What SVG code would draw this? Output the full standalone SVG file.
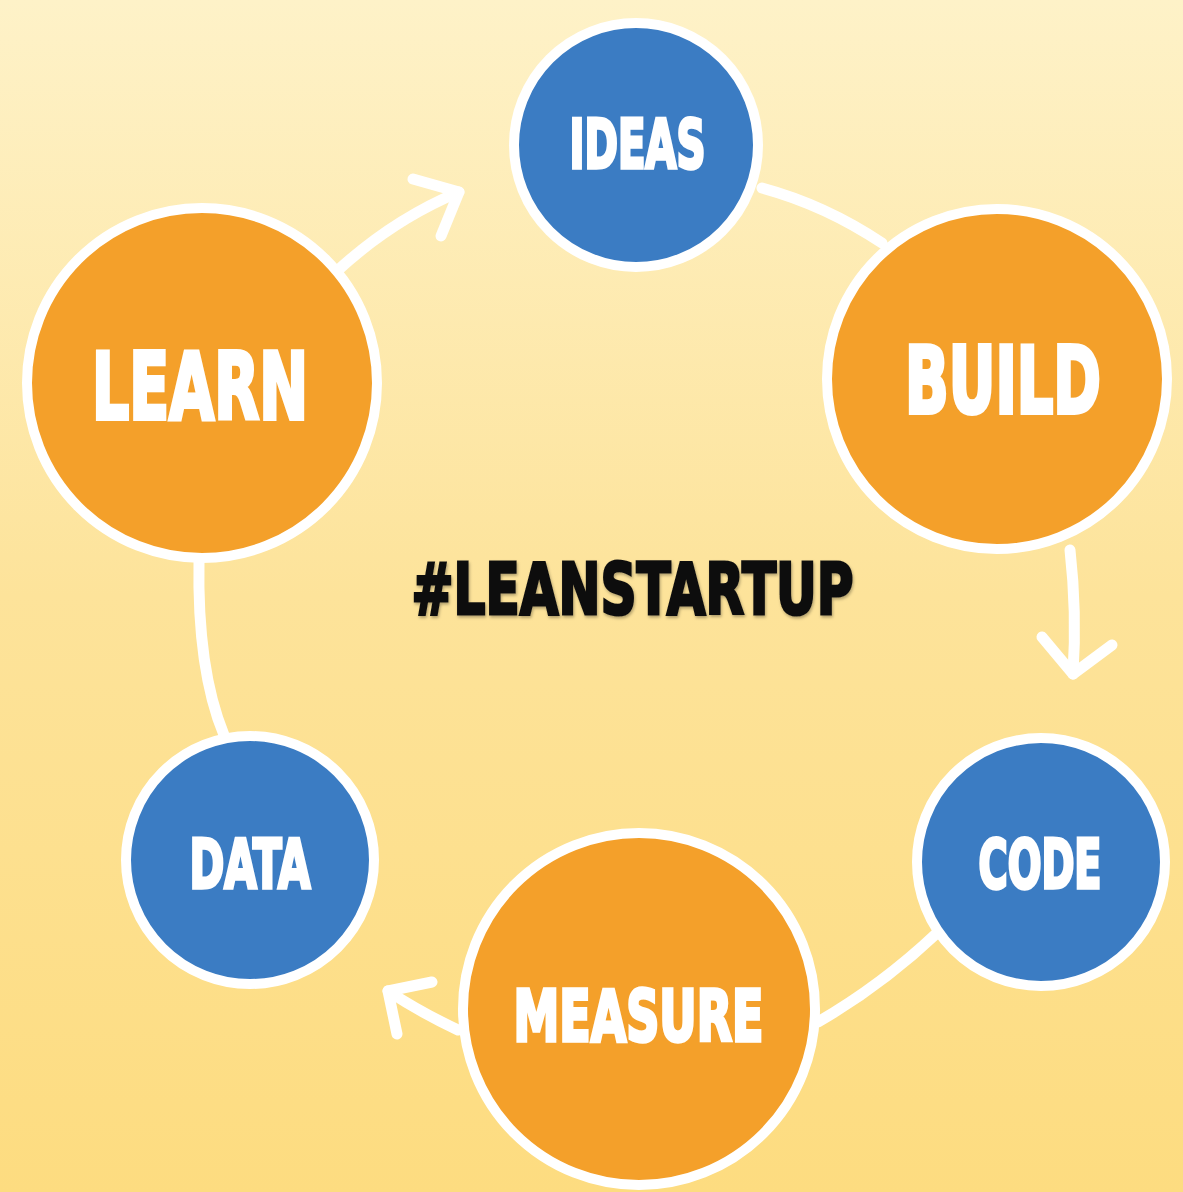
<svg xmlns="http://www.w3.org/2000/svg" width="1183" height="1192" viewBox="0 0 1183 1192">
  <defs>
    <linearGradient id="bg" x1="0" y1="0" x2="0" y2="1">
      <stop offset="0" stop-color="#FEF2C8"/>
      <stop offset="0.5" stop-color="#FDE39A"/>
      <stop offset="1" stop-color="#FDDC80"/>
    </linearGradient>
    <filter id="shadow" x="-5%" y="-20%" width="110%" height="140%">
      <feDropShadow dx="1" dy="2" stdDeviation="1.5" flood-color="#000" flood-opacity="0.3"/>
    </filter>
  </defs>
  <style>
    .blue { fill: #3B7CC3; stroke: #FFFFFF; stroke-width: 10; }
    .orange { fill: #F4A02A; stroke: #FFFFFF; stroke-width: 10; }
    .lbl { font-family: "DejaVu Sans Condensed", "DejaVu Sans", sans-serif; font-stretch: condensed; font-weight: bold; fill: #FFFFFF; stroke: #FFFFFF; stroke-linejoin: miter; }
    .big { font-size: 92px; stroke-width: 4; }
    .mid { font-size: 71px; stroke-width: 3.5; }
    .sm { font-size: 67px; stroke-width: 3.5; }
    .title { font-family: "DejaVu Sans", sans-serif; font-weight: bold; font-size: 71px; fill: #111111; stroke: #111111; stroke-width: 3; stroke-linejoin: miter; }
    .conn { fill: none; stroke: #FFFFFF; stroke-width: 11; stroke-linecap: round; stroke-linejoin: round; }
  </style>
  <rect x="0" y="0" width="1183" height="1192" fill="url(#bg)"/>

  <g id="connectors">
    <path class="conn" d="M 336 272 Q 392 220 459 192"/>
    <polyline class="conn" points="413,179 459,192 441,236"/>
    <path class="conn" d="M 762 188 Q 825 205 882 243"/>
    <path class="conn" d="M 1070 550 Q 1077 612 1073 674"/>
    <polyline class="conn" points="1042,637 1073,674 1112,645"/>
    <path class="conn" d="M 937 933 Q 882 985 818 1022"/>
    <path class="conn" d="M 458 1030 Q 420 1012 388 991"/>
    <polyline class="conn" points="432,982 388,991 397,1034"/>
    <path class="conn" d="M 199 560 Q 197 670 224 735"/>
  </g>

  <g id="node-ideas">
    <circle class="blue" cx="636" cy="145" r="122"/>
    <text class="lbl sm" x="569.5" y="168" textLength="136" lengthAdjust="spacingAndGlyphs">IDEAS</text>
  </g>
  <g id="node-build">
    <circle class="orange" cx="997" cy="379" r="170"/>
    <text class="lbl big" x="905" y="413" textLength="196" lengthAdjust="spacingAndGlyphs">BUILD</text>
  </g>
  <g id="node-code">
    <circle class="blue" cx="1041" cy="862" r="124"/>
    <text class="lbl sm" x="978.5" y="888" textLength="123" lengthAdjust="spacingAndGlyphs">CODE</text>
  </g>
  <g id="node-measure">
    <circle class="orange" cx="639" cy="1009" r="176"/>
    <text class="lbl mid" x="513.5" y="1041" textLength="250" lengthAdjust="spacingAndGlyphs">MEASURE</text>
  </g>
  <g id="node-data">
    <circle class="blue" cx="250" cy="860" r="124"/>
    <text class="lbl sm" x="189.5" y="888" textLength="121" lengthAdjust="spacingAndGlyphs">DATA</text>
  </g>
  <g id="node-learn">
    <circle class="orange" cx="202" cy="383" r="175"/>
    <text class="lbl big" x="92" y="419" textLength="216" lengthAdjust="spacingAndGlyphs">LEARN</text>
  </g>
  <g id="title">
    <text class="title" x="411.5" y="613.5" textLength="442" lengthAdjust="spacingAndGlyphs" filter="url(#shadow)">#LEANSTARTUP</text>
  </g>
</svg>
